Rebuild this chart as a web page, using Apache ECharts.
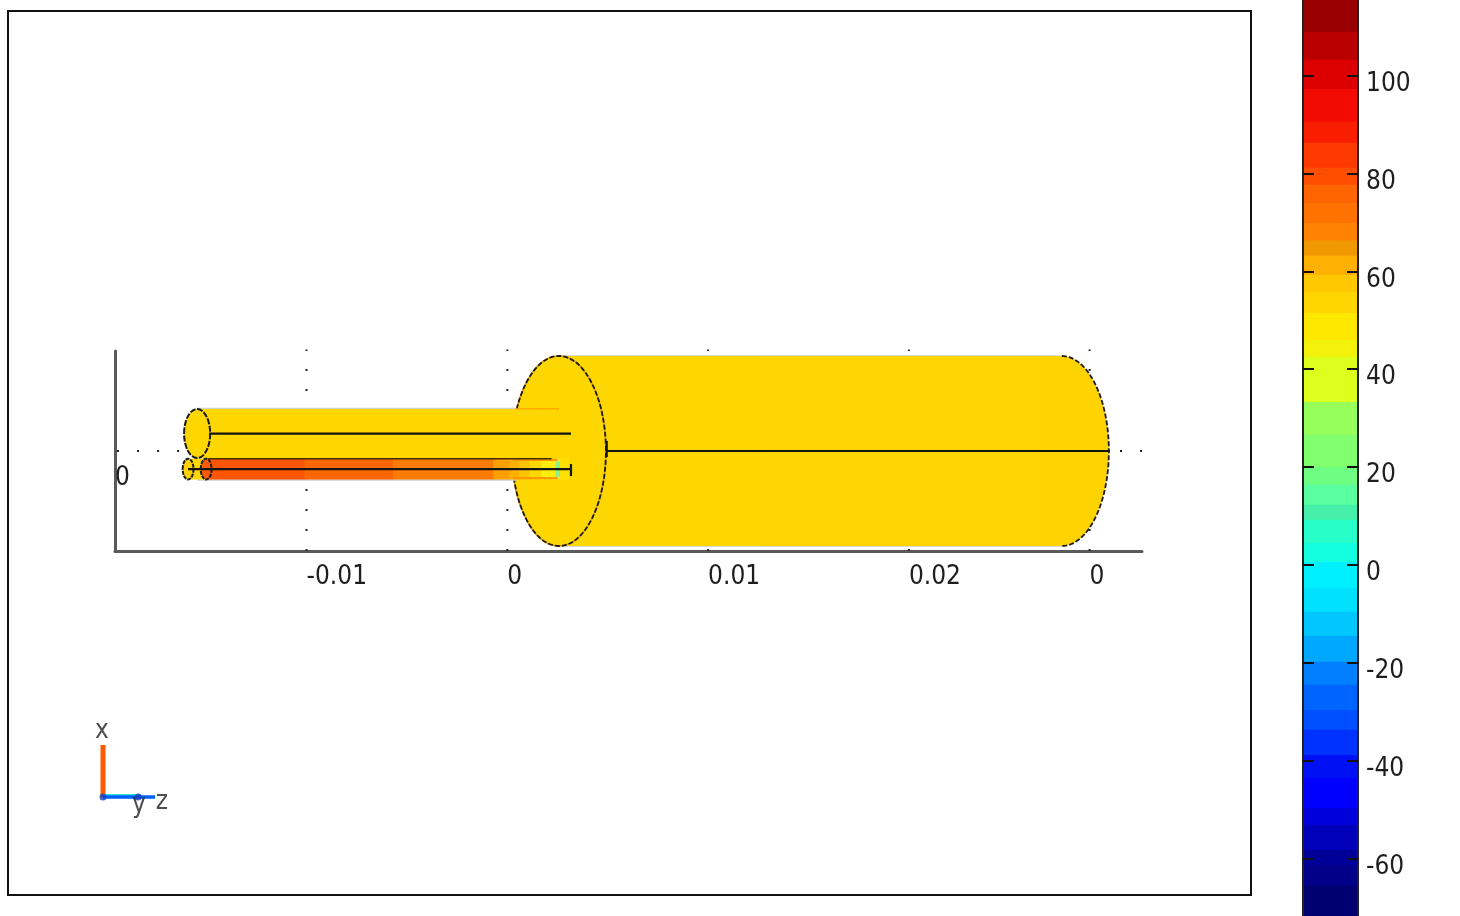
<!DOCTYPE html>
<html>
<head>
<meta charset="utf-8">
<style>
html,body{margin:0;padding:0;background:#fff;overflow:hidden}
#chart{width:1460px;height:916px;filter:blur(0.6px)}
</style>
<script src="https://cdn.jsdelivr.net/npm/echarts@6/dist/echarts.min.js"></script>
</head>
<body>
<div id="chart"></div>
<script>
// ---- scene axes (metres) ----
const sceneTickValues = [-0.01, 0, 0.01, 0.02, 0.029];
const sceneTickLabels = ['-0.01', '0', '0.01', '0.02', '0'];
const sceneVerticalTicks = [0];
const sceneVerticalLabels = ['0'];

// ---- cylinder bodies: axial start, axial end, centre height, radius ----
const mainBands = [0.00257, 0.0125, 0.0265, 0.02762];
const mainBandColors = ['#ffd700', '#ffd500', '#ffd300'];
const mainCentre = 0, mainRadius = 0.00473, mainEndAxis = 0.00234;

const upperStart = -0.01545, upperEnd = 0.00290, upperCentre = 0.00087, upperRadius = 0.00122, upperEndAxis = 0.00065;

const lowerCentre = -0.00090, lowerRadius = 0.00052, lowerEndAxis = 0.00027;
const lowerEnds = [-0.0159, -0.0150];
const lowerEndColors = ['#ffd200', '#ff5a00'];
const lowerBands = [-0.0150, -0.0101, -0.0057, -0.0007, 0.0001, 0.0006, 0.0011, 0.0017, 0.0024, 0.00262, 0.00302];
const lowerBandColors = ['#ff5500', '#ff6600', '#ff7c00', '#ffa000', '#ffb000', '#ffc400', '#ffd800', '#ffee10', '#ffe640', '#ffe000'];
const lowerFarBand = [-0.0159, -0.0150];
const lowerStripe = [0.0003, 0.0025];
const coldSpot = [0.0024, 0.00262];

// ---- axial lines ----
const mainAxial = [0.00495, 0.03001];
const upperAxial = [-0.01485, 0.00317];
const lowerAxial = [-0.01590, 0.00317];
const lowerCap = [-0.00065, -0.00125];
const lowerSeam = [-0.0149, 0.0022];

// ---- colour bar: band edges (values) and colours ----
const barEdges = [115.5,109.0,103.3,97.3,90.6,86.3,81.2,77.7,74.0,69.9,66.3,63.2,59.3,55.8,51.5,46.0,42.5,33.3,26.6,20.0,16.4,12.3,9.2,4.5,0.6,-4.7,-9.6,-14.5,-19.8,-24.5,-29.7,-33.7,-38.9,-43.6,-49.7,-53.2,-58.3,-61.6,-65.6,-71.8];
const barColors = ['#990000','#bb0000','#dd0000','#f20b00','#fa1e00','#ff3a00','#ff4e00','#ff6400','#ff7200','#ff8300','#f09800','#ffb000','#ffc800','#ffd600','#ffe800','#f2f20a','#dcff1e','#96ff5a','#82ff6e','#6eff82','#5affa0','#46f0aa','#28ffc8','#14ffe0','#00f0ff','#00e0ff','#00c8ff','#00a8ff','#0080ff','#0064ff','#0050ff','#0032ff','#0010f5','#0000ff','#0000dc','#0000bb','#000099','#000088','#000070'];
const barTicks = [100, 80, 60, 40, 20, 0, -20, -40, -60];

// ---- orientation triad ----
const triadOrigin = [23, 23];
const triadXTip = [23, 75];
const triadZTip = [75, 23];
const triadLabels = [['x', 22, 89], ['y', 59, 15], ['z', 82, 18]];

const FONT = '"DejaVu Sans Condensed","DejaVu Sans",sans-serif';
const TEXT = '#1e1e1e';
const OVERLAP = 0.00004;

function rectItem(api, z0, z1, top, bottom, fill) {
  const a = api.coord([z0, top]), b = api.coord([z1, bottom]);
  return {type: 'rect', shape: {x: a[0], y: a[1], width: b[0] - a[0], height: b[1] - a[1]}, style: {fill}};
}
function ellipseItem(api, z, centre, axisZ, radius, fill, stroke, dash, width) {
  const c = api.coord([z, centre]);
  const e = api.coord([z + axisZ, centre + radius]);
  return {type: 'ellipse', shape: {cx: c[0], cy: c[1], rx: e[0] - c[0], ry: c[1] - e[1]},
    style: {fill: fill || 'none', stroke: stroke || 'none', lineDash: dash || null, lineWidth: width || 1.6}};
}
function halfEllipseItem(api, z, centre, axisZ, radius, stroke, dash) {
  const c = api.coord([z, centre]);
  const e = api.coord([z + axisZ, centre + radius]);
  const rx = e[0] - c[0], ry = c[1] - e[1], points = [];
  for (let i = -40; i <= 40; i++) {
    const t = i / 40 * Math.PI / 2;
    points.push([c[0] + rx * Math.cos(t), c[1] + ry * Math.sin(t)]);
  }
  return {type: 'polyline', shape: {points}, style: {fill: 'none', stroke, lineDash: dash, lineWidth: 1.8}};
}

function renderScene(params, api) {
  const kids = [];
  // main cylinder
  kids.push(rectItem(api, mainBands[0], mainBands[mainBands.length - 1], mainCentre + mainRadius + 0.00005, mainCentre - mainRadius - 0.00005, '#d8d8d8'));
  kids.push(ellipseItem(api, mainBands[mainBands.length - 1], mainCentre, mainEndAxis, mainRadius, mainBandColors[2]));
  mainBandColors.forEach((col, i) => kids.push(rectItem(api, mainBands[i], mainBands[i + 1] + OVERLAP, mainCentre + mainRadius, mainCentre - mainRadius, col)));
  kids.push(ellipseItem(api, mainBands[0], mainCentre, mainEndAxis, mainRadius, '#ffd700', '#e0a000', null, 1.6));
  kids.push(ellipseItem(api, mainBands[0], mainCentre, mainEndAxis, mainRadius, null, '#1c1c1c', [5, 2], 1.8));
  kids.push(halfEllipseItem(api, mainBands[mainBands.length - 1], mainCentre, mainEndAxis, mainRadius, '#1c1c1c', [5, 2]));
  // upper tube
  kids.push(rectItem(api, upperStart, mainBands[0] - mainEndAxis + 0.00022, upperCentre + upperRadius + 0.00006, lowerCentre - lowerRadius - 0.00006, '#d0d0d0'));
  kids.push(rectItem(api, upperStart, upperEnd, upperCentre + upperRadius, upperCentre - upperRadius, '#ffd700'));
  kids.push(rectItem(api, 0.0004, mainBands[0], upperCentre + upperRadius + 0.00004, upperCentre + upperRadius - 0.00002, '#ffa000'));
  // lower tube
  kids.push(rectItem(api, lowerFarBand[0], lowerFarBand[1], lowerCentre + lowerRadius, lowerCentre - lowerRadius, '#ffd700'));
  lowerBandColors.forEach((col, i) => kids.push(rectItem(api, lowerBands[i], lowerBands[i + 1] + OVERLAP, lowerCentre + lowerRadius, lowerCentre - lowerRadius, col)));
  // warm stripes and the small cold spot at the tip of the lower tube
  kids.push(rectItem(api, lowerStripe[0], lowerStripe[1], lowerCentre - lowerRadius + 0.00012, lowerCentre - lowerRadius + 0.00001, '#ff9a00'));
  kids.push(rectItem(api, lowerStripe[0], lowerStripe[1], lowerCentre + lowerRadius - 0.00001, lowerCentre + lowerRadius - 0.00012, '#ff9a00'));
  kids.push(rectItem(api, coldSpot[0], coldSpot[1], lowerCentre + 0.00038, lowerCentre - 0.00038, '#8cf08a'));
  // end caps
  kids.push(ellipseItem(api, upperStart, upperCentre, upperEndAxis, upperRadius, '#ffd700', '#1c1c1c', [6, 1.5], 2));
  lowerEnds.forEach((z, i) => kids.push(ellipseItem(api, z, lowerCentre, lowerEndAxis, lowerRadius, lowerEndColors[i], '#1c1c1c', [4, 1], 2)));
  return {type: 'group', children: kids};
}

function axial(name, z, h, color, width, dash, zlevelZ, dashOffset) {
  return {type: 'line', name, xAxisIndex: 0, yAxisIndex: 0, showSymbol: false, silent: true, clip: false,
    data: z.map((v, i) => [v, Array.isArray(h) ? h[i] : h]),
    lineStyle: {color: color, width: width, type: dash || 'solid', cap: 'butt', dashOffset: dashOffset || 0}, z: zlevelZ};
}

const sceneMinZ = -0.01954, sceneMaxZ = 0.03161, sceneMinH = -0.00498, sceneMaxH = 0.00498;

const guides = [];
sceneTickValues.forEach(v => guides.push(axial('guide', [v, v], [sceneMinH, 0.00506], '#222', 2, [2, 18], 1)));
guides.push(axial('guide', [sceneMinZ, sceneMaxZ], [0, 0], '#222', 2, [2, 18.06], 1, -2));

const barData = barColors.map((c, i) => ({value: [barEdges[i], barEdges[i + 1]]}));

const option = {
  animation: false,
  backgroundColor: '#fff',
  grid: [
    {left: 115, top: 351, width: 1027, height: 200, containLabel: false},
    {left: 8, top: 11, width: 1243, height: 884, show: true, borderColor: '#111', borderWidth: 2, backgroundColor: 'transparent', z: 0},
    {left: 1303, top: 0, width: 55, height: 916},
    {left: 80, top: 720, width: 100, height: 100}
  ],
  xAxis: [
    {gridIndex: 0, type: 'value', min: sceneMinZ, max: sceneMaxZ, position: 'bottom',
      axisLine: {show: true, onZero: false, lineStyle: {color: '#5a5a5a', width: 3}},
      axisTick: {show: false, customValues: sceneTickValues},
      splitLine: {show: false},
      axisLabel: {show: true, customValues: sceneTickValues, align: 'left', margin: 13, color: TEXT, fontFamily: FONT, fontSize: 26,
        showMinLabel: true, showMaxLabel: true, hideOverlap: false,
        formatter: v => sceneTickLabels[sceneTickValues.indexOf(v)]}},
    {gridIndex: 1, type: 'value', min: 0, max: 1, show: false},
    {gridIndex: 2, type: 'value', min: 0, max: 1, show: false},
    {gridIndex: 3, type: 'value', min: 0, max: 100, show: false}
  ],
  yAxis: [
    {gridIndex: 0, type: 'value', min: sceneMinH, max: sceneMaxH, position: 'left',
      axisLine: {show: true, onZero: false, lineStyle: {color: '#5a5a5a', width: 3}},
      axisTick: {show: false, customValues: sceneVerticalTicks},
      splitLine: {show: false},
      axisLabel: {show: true, inside: true, customValues: sceneVerticalTicks, align: 'left', verticalAlign: 'top', margin: 0,
        padding: [14, 0, 0, 0], color: TEXT, fontFamily: FONT, fontSize: 26,
        formatter: v => sceneVerticalLabels[sceneVerticalTicks.indexOf(v)]}},
    {gridIndex: 1, type: 'value', min: 0, max: 1, show: false},
    {gridIndex: 2, type: 'value', min: -71.8, max: 115.5, position: 'right', z: 10,
      axisLine: {show: true, onZero: false, lineStyle: {color: '#222', width: 2}},
      axisTick: {show: true, inside: true, length: 11, customValues: barTicks, lineStyle: {color: '#111', width: 2}},
      splitLine: {show: false},
      axisLabel: {show: true, customValues: barTicks, margin: 8, align: 'left', verticalAlign: 'top', lineHeight: 17,
        color: TEXT, fontFamily: FONT, fontSize: 26}},
    {gridIndex: 2, type: 'value', min: -71.8, max: 115.5, position: 'left', z: 10,
      axisLine: {show: true, onZero: false, lineStyle: {color: '#222', width: 2}},
      axisTick: {show: true, inside: true, length: 11, customValues: barTicks, lineStyle: {color: '#111', width: 2}},
      splitLine: {show: false},
      axisLabel: {show: false}},
    {gridIndex: 3, type: 'value', min: 0, max: 100, show: false}
  ],
  series: [
    ...guides,
    {type: 'custom', name: 'scene', xAxisIndex: 0, yAxisIndex: 0, data: [[0, 0]], renderItem: renderScene, silent: true, z: 3, clip: false},
    axial('main axis', mainAxial, mainCentre, '#141414', 2.2, null, 5),
    axial('upper axis', upperAxial, upperCentre, '#141414', 2.2, null, 5),
    axial('lower axis', lowerAxial, lowerCentre, '#141414', 2.2, null, 5),
    axial('lower seam', lowerSeam, lowerCentre + lowerRadius, '#4a2a00', 1.5, null, 5),
    axial('lower cap', [upperAxial[1], upperAxial[1]], lowerCap, '#141414', 2.2, null, 5),
    axial('main cap', [mainAxial[0], mainAxial[0]], [0.0005, -0.0003], '#141414', 2.2, null, 5),
    {type: 'custom', name: 'colour bar', xAxisIndex: 2, yAxisIndex: 2, data: barData, silent: true, z: 1,
      renderItem(params, api) {
        const a = api.coord([0, api.value(0)]), b = api.coord([1, api.value(1)]);
        return {type: 'rect', shape: {x: a[0], y: a[1], width: b[0] - a[0], height: b[1] - a[1] + 0.5},
          style: {fill: barColors[params.dataIndex]}};
      }},
    {type: 'line', xAxisIndex: 3, yAxisIndex: 4, showSymbol: false, silent: true, data: [triadOrigin, triadXTip],
      lineStyle: {color: '#ff5a00', width: 5, cap: 'butt'}, z: 3},
    {type: 'line', xAxisIndex: 3, yAxisIndex: 4, showSymbol: false, silent: true,
      data: [[triadOrigin[0], triadOrigin[1] + 2], [triadZTip[0] - 14, triadZTip[1] + 2]],
      lineStyle: {color: '#30e8d0', width: 2, cap: 'butt'}, z: 3},
    {type: 'line', xAxisIndex: 3, yAxisIndex: 4, showSymbol: false, silent: true, data: [triadOrigin, triadZTip],
      lineStyle: {color: '#0060ff', width: 3.5, cap: 'butt'}, z: 4},
    {type: 'scatter', xAxisIndex: 3, yAxisIndex: 4, silent: true, symbolSize: 7, z: 5,
      itemStyle: {color: '#1040c0'}, data: [triadOrigin, [triadLabels[1][1] - 1, triadOrigin[1]]]},
    {type: 'scatter', xAxisIndex: 3, yAxisIndex: 4, silent: true, symbolSize: 0, z: 6, clip: false,
      data: triadLabels.map(l => ({name: l[0], value: [l[1], l[2]]})),
      label: {show: true, position: 'inside', formatter: '{b}', color: '#222', fontFamily: FONT, fontSize: 26}}
  ]
};
const chart = echarts.init(document.getElementById('chart'), null, {renderer: 'canvas', width: 1460, height: 916});
chart.setOption(option);
</script>
</body>
</html>
